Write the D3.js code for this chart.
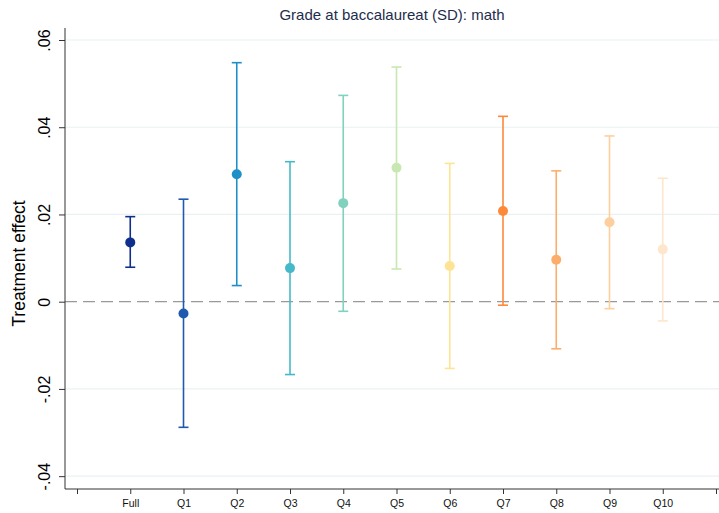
<!DOCTYPE html>
<html>

<head>
  <meta charset="utf-8">
  <title>Grade at baccalaureat (SD): math</title>
  <style type="text/css">
    body {
      margin: 0;
      background: #fff;
    }

    svg {
      display: block;
      font-family: "Liberation Sans", Arial, sans-serif;
    }
  </style>
  <script type="text/javascript" src="https://cdn.jsdelivr.net/npm/d3@7"></script>
</head>

<body>
  <script>
    // groups on the x axis (blank slots at both ends)
    var groups = ['', 'Full', 'Q1', 'Q2', 'Q3', 'Q4', 'Q5', 'Q6', 'Q7', 'Q8', 'Q9', 'Q10', ''];
    var names = ['Full', 'Q1', 'Q2', 'Q3', 'Q4', 'Q5', 'Q6', 'Q7', 'Q8', 'Q9', 'Q10'];
    var estimates = [0.0136, -0.0027, 0.0292, 0.0077, 0.0226, 0.0307, 0.0082, 0.0208, 0.0096, 0.0182, 0.0120];
    var lower = [0.0079, -0.0288, 0.0037, -0.0167, -0.0022, 0.0075, -0.0153, -0.0008, -0.0108, -0.0016, -0.0044];
    var upper = [0.0195, 0.0235, 0.0548, 0.0321, 0.0473, 0.0538, 0.0317, 0.0425, 0.0300, 0.0380, 0.0283];
    var colors = ['#0e2f8c', '#2059ad', '#1f90c7', '#46b9c9', '#80d2bf', '#c8e8b3', '#fde393',
      '#fd8a3a', '#fdad6b', '#fdcf9f', '#fde6cc'];
    var yTicks = [-0.04, -0.02, 0, 0.02, 0.04, 0.06];
    var yTickLabels = ['-.04', '-.02', '0', '.02', '.04', '.06'];

    var width = 719, height = 513;
    var plotLeft = 65, plotTop = 28, plotBottom = 489;

    var svg = d3.select('body').append('svg')
      .attr('width', width)
      .attr('height', height);

    var x = d3.scalePoint()
      .domain(d3.range(groups.length))
      .range([77, 716]);

    var y = d3.scaleLinear()
      .domain([0, 0.06])
      .range([301.7, 40]);

    // gridlines
    svg.selectAll('.grid')
      .data(yTicks.filter(d => d !== 0))
      .enter()
      .append('line')
      .attr('x1', plotLeft)
      .attr('x2', width)
      .attr('y1', d => y(d))
      .attr('y2', d => y(d))
      .attr('stroke', '#eaf1f3')
      .attr('stroke-width', 1.2);

    // zero reference line
    svg.append('line')
      .attr('x1', plotLeft)
      .attr('x2', width)
      .attr('y1', y(0))
      .attr('y2', y(0))
      .attr('stroke', '#999')
      .attr('stroke-width', 1.3)
      .attr('stroke-dasharray', '12 6');

    // y axis
    var yAxis = d3.axisLeft(y)
      .tickValues(yTicks)
      .tickFormat((d, i) => yTickLabels[i])
      .tickSize(6)
      .tickSizeOuter(0);

    var gy = svg.append('g')
      .attr('transform', `translate(${plotLeft},0)`)
      .call(yAxis);
    gy.select('.domain').remove();
    gy.append('line')
      .attr('y1', plotTop)
      .attr('y2', plotBottom)
      .attr('stroke', '#333');
    gy.selectAll('.tick line').attr('stroke', '#333');
    gy.selectAll('.tick text')
      .attr('font-size', 16)
      .attr('fill', '#000')
      .attr('text-anchor', 'middle')
      .attr('transform', 'rotate(-90)')
      .attr('x', 0)
      .attr('y', -15)
      .attr('dy', 0);

    // x axis
    var xAxis = d3.axisBottom(x)
      .tickFormat(i => groups[i])
      .tickSize(5)
      .tickPadding(6)
      .tickSizeOuter(0);

    var gx = svg.append('g')
      .attr('transform', `translate(0,${plotBottom})`)
      .call(xAxis);
    gx.select('.domain').remove();
    gx.append('line')
      .attr('x1', plotLeft)
      .attr('x2', width)
      .attr('stroke', '#333');
    gx.selectAll('.tick line').attr('stroke', '#333');
    gx.selectAll('.tick text')
      .attr('font-size', 10.5)
      .attr('fill', '#111');

    // error bars
    var data = names.map((n, i) => ({
      name: n, idx: i + 1, est: estimates[i], lo: lower[i], hi: upper[i], color: colors[i]
    }));

    var bars = svg.selectAll('.bar')
      .data(data)
      .enter()
      .append('g')
      .classed('bar', true);

    bars.append('line')
      .attr('x1', d => x(d.idx))
      .attr('x2', d => x(d.idx))
      .attr('y1', d => y(d.lo))
      .attr('y2', d => y(d.hi))
      .attr('stroke', d => d.color)
      .attr('stroke-width', 1.6);

    ['lo', 'hi'].forEach(k => {
      bars.append('line')
        .attr('x1', d => x(d.idx) - 5)
        .attr('x2', d => x(d.idx) + 5)
        .attr('y1', d => y(d[k]))
        .attr('y2', d => y(d[k]))
        .attr('stroke', d => d.color)
        .attr('stroke-width', 1.6);
    });

    bars.append('circle')
      .attr('cx', d => x(d.idx))
      .attr('cy', d => y(d.est))
      .attr('r', 5)
      .attr('fill', d => d.color);

    // axis title
    svg.append('text')
      .attr('transform', `translate(25,${(plotTop + plotBottom) / 2 + 5}) rotate(-90)`)
      .attr('text-anchor', 'middle')
      .attr('font-size', 17.5)
      .attr('fill', '#000')
      .text('Treatment effect');

    // title
    svg.append('text')
      .attr('x', (plotLeft + width) / 2)
      .attr('y', 20)
      .attr('text-anchor', 'middle')
      .attr('font-size', 15)
      .attr('fill', '#1e2d4d')
      .text('Grade at baccalaureat (SD): math');
  </script>
</body>

</html>
